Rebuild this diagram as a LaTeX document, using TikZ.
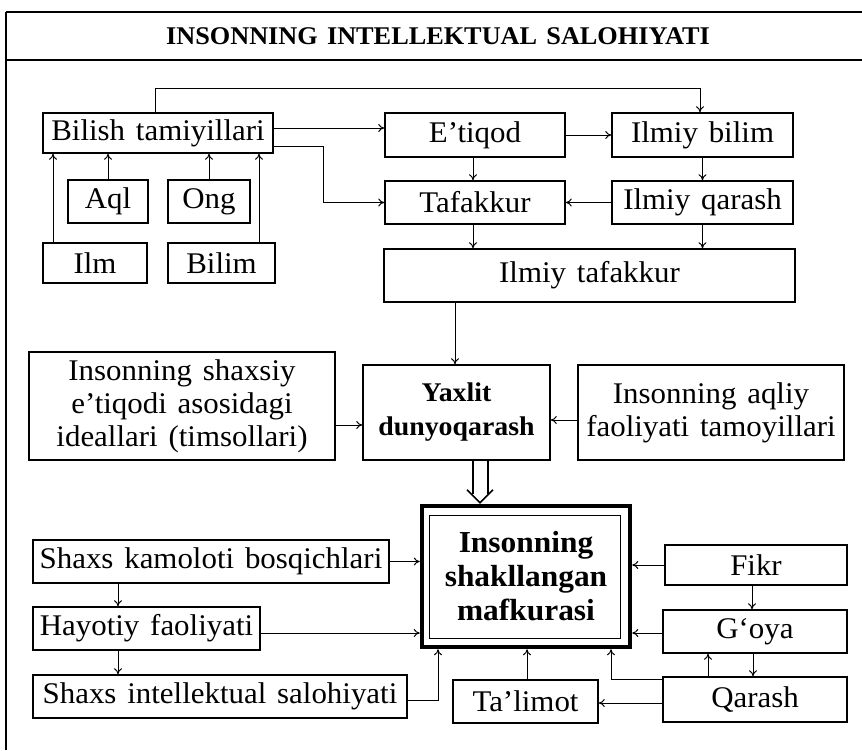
\documentclass[tikz,border=0pt]{standalone}
\usepackage{fontspec}
\setmainfont[FakeStretch=1.03, WordSpace=1.4]{Liberation Serif}
\usetikzlibrary{arrows.meta}
\begin{document}
\begin{tikzpicture}[x=1pt,y=-1pt,
  box/.style={draw, line width=1.5pt, inner sep=0pt, align=center,
    font=\fontsize{30}{33}\selectfont},
  arr/.style={line width=1pt, -{To[length=6pt,width=8pt]}},
  ln/.style={line width=1.5pt},
  frame/.style={line width=1.5pt}]
\fill[white] (0,0) rectangle (862,750);
\useasboundingbox (0,0) rectangle (862,750);
% frame
\draw[frame] (6,12) -- (862,12);
\draw[frame] (6,60) -- (862,60);
\draw[frame] (6,12) -- (6,750);
\node[font=\bfseries\fontsize{25.5}{28}\selectfont] (title) at (438,36) {INSONNING INTELLEKTUAL SALOHIYATI};
% nodes
\node[box, minimum width=230pt, minimum height=40pt] (bilish) at (158,133) {Bilish tamiyillari};
\node[box, minimum width=180pt, minimum height=44pt] (etiqod) at (475,135) {E’tiqod};
\node[box, minimum width=181pt, minimum height=44pt] (ibilim) at (702.5,135) {Ilmiy bilim};
\node[box, minimum width=180pt, minimum height=43pt] (tafakkur) at (475,202.5) {Tafakkur};
\node[box, minimum width=181pt, minimum height=43pt] (iqarash) at (702.5,202.5) {Ilmiy qarash};
\node[box, minimum width=80pt, minimum height=43pt] (aql) at (108,201.5) {Aql};
\node[box, minimum width=82pt, minimum height=43pt] (ong) at (209,201.5) {Ong};
\node[box, minimum width=104pt, minimum height=40pt] (ilm) at (95,263) {Ilm};
\node[box, minimum width=107pt, minimum height=40pt] (bilimb) at (221.5,263) {Bilim};
\node[box, minimum width=411pt, minimum height=53pt] (itafakkur) at (589.5,275.5) {Ilmiy tafakkur};
\node[box, minimum width=306pt, minimum height=108pt] (shaxsiy) at (182,406) {Insonning shaxsiy\\e’tiqodi asosidagi\\ideallari (timsollari)};
\node[box, minimum width=187pt, minimum height=95pt, font=\bfseries\fontsize{27}{34}\selectfont] (yaxlit) at (456.5,412.5) {Yaxlit\\dunyoqarash};
\node[box, minimum width=266pt, minimum height=95pt] (aqliy) at (711,412.5) {Insonning aqliy\\faoliyati tamoyillari};
\node[box, line width=4.5pt, minimum width=208pt, minimum height=141pt, font=\bfseries\fontsize{30.5}{34}\selectfont] (mafkura) at (526,576.5) {Insonning\\shakllangan\\mafkurasi};
\draw[line width=1.3pt] ([xshift=10pt,yshift=-12pt]mafkura.north west) rectangle ([xshift=-12pt,yshift=11pt]mafkura.south east);
\node[box, minimum width=356pt, minimum height=43pt] (kamoloti) at (211,561.5) {Shaxs kamoloti bosqichlari};
\node[box, minimum width=227pt, minimum height=43pt] (hayotiy) at (146.5,628.5) {Hayotiy faoliyati};
\node[box, minimum width=374pt, minimum height=43pt] (intellekt) at (220,696.5) {Shaxs intellektual salohiyati};
\node[box, minimum width=145pt, minimum height=43pt] (talimot) at (525.5,701.5) {Ta’limot};
\node[box, minimum width=182pt, minimum height=40pt] (fikr) at (756,565) {Fikr};
\node[box, minimum width=184pt, minimum height=43pt] (goya) at (755,631.5) {G‘oya};
\node[box, minimum width=184pt, minimum height=45pt] (qarash) at (755,699.5) {Qarash};
% connectors top
\draw[arr] ([xshift=-3pt]bilish.north) -- ++(0,-24) -| ([xshift=-2.5pt]ibilim.north);
\draw[arr] ([yshift=5pt]bilish.east) -- ([yshift=5pt]bilish.east -| etiqod.west);
\draw[arr] ([yshift=-13pt]bilish.east) -- ++(50,0) |- (tafakkur.west);
\draw[arr] (etiqod.east) -- (ibilim.west);
\draw[arr] ([xshift=-2pt]etiqod.south) -- ([xshift=-2pt]tafakkur.north);
\draw[arr] (ibilim.south) -- (iqarash.north);
\draw[arr] (iqarash.west) -- (tafakkur.east);
\draw[arr] ([xshift=-2pt]tafakkur.south) -- ([xshift=-2pt]tafakkur.south |- itafakkur.north);
\draw[arr] (iqarash.south) -- (iqarash.south |- itafakkur.north);
\draw[arr] ([xshift=-42pt]ilm.north) -- ([xshift=-42pt]ilm.north |- bilish.south);
\draw[arr] (aql.north) -- (aql.north |- bilish.south);
\draw[arr] (ong.north) -- (ong.north |- bilish.south);
\draw[arr] ([xshift=37.5pt]bilimb.north) -- ([xshift=37.5pt]bilimb.north |- bilish.south);
% middle
\draw[arr] ([xshift=-134.5pt]itafakkur.south) -- ([xshift=-134.5pt]itafakkur.south |- yaxlit.north);
\draw[arr] ([yshift=-19pt]shaxsiy.east) -- ([yshift=-19pt]shaxsiy.east -| yaxlit.west);
\draw[arr] ([yshift=-7.5pt]aqliy.west) -- ([yshift=-7.5pt]aqliy.west -| yaxlit.east);
% double arrow Yaxlit => mafkura
\draw[ln] ([xshift=16.5pt]yaxlit.south) -- ([xshift=16.5pt,yshift=10pt]yaxlit.south |- mafkura.north);
\draw[ln] ([xshift=31.5pt]yaxlit.south) -- ([xshift=31.5pt,yshift=10pt]yaxlit.south |- mafkura.north);
\draw[ln, line join=miter] ([xshift=10.5pt,yshift=14pt]yaxlit.south |- mafkura.north) -- ([xshift=23.5pt,yshift=1pt]yaxlit.south |- mafkura.north) -- ([xshift=36.5pt,yshift=14pt]yaxlit.south |- mafkura.north);
% bottom
\draw[arr] (kamoloti.east) -- (kamoloti.east -| mafkura.west);
\draw[arr] (fikr.west) -- (fikr.west -| mafkura.east);
\draw[arr] ([yshift=-4.5pt]hayotiy.east) -- ([yshift=-4.5pt]hayotiy.east -| mafkura.west);
\draw[arr] ([yshift=-1.5pt]goya.west) -- ([yshift=-1.5pt]goya.west -| mafkura.east);
\draw[arr] ([xshift=-93pt]kamoloti.south) -- ([xshift=-93pt]kamoloti.south |- hayotiy.north);
\draw[arr] ([xshift=-28.5pt]hayotiy.south) -- ([xshift=-28.5pt]hayotiy.south |- intellekt.north);
\draw[arr] ([yshift=-3.5pt]intellekt.east) -| ([xshift=-88pt]mafkura.south);
\draw[arr] ([xshift=1.5pt]talimot.north) -- ([xshift=1.5pt]talimot.north |- mafkura.south);
\draw[arr] ([yshift=20pt]qarash.west) -| ([xshift=85pt]mafkura.south);
\draw[arr] ([yshift=-3.5pt]qarash.west) -- ([yshift=-3.5pt]qarash.west -| talimot.east);
\draw[arr] ([xshift=-4pt]fikr.south) -- ([xshift=-4pt]fikr.south |- goya.north);
\draw[arr] ([xshift=-2pt]goya.south) -- ([xshift=-2pt]goya.south |- qarash.north);
\draw[arr] ([xshift=-47pt]qarash.north) -- ([xshift=-47pt]qarash.north |- goya.south);
\end{tikzpicture}
\end{document}
